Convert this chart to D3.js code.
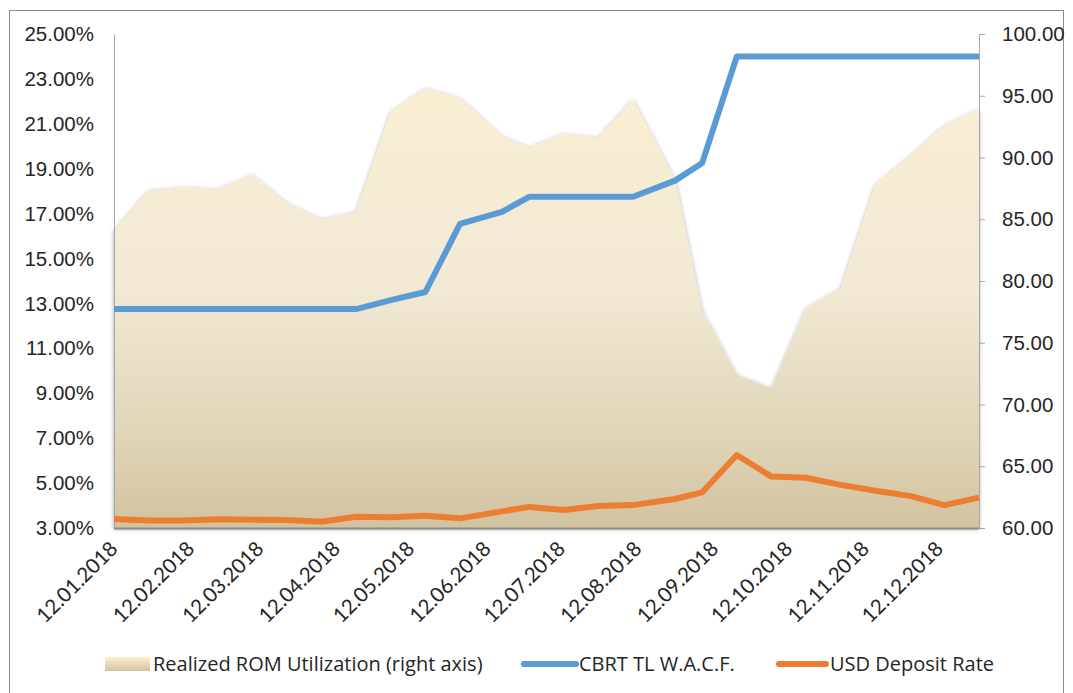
<!DOCTYPE html>
<html>
<head>
<meta charset="utf-8">
<title>ROM utilization and rates 2018</title>
<script src="https://d3js.org/d3.v7.min.js"></script>
<style>
  body { margin: 0; background: #fff; font-family: "Lato", "Open Sans", sans-serif; }
  .axis text { fill: #262626; font-size: 20.5px; }
  .axis path, .axis line { stroke: #a6a6a6; }
  .legend text { fill: #262626; font-size: 20px; font-family: "Open Sans", sans-serif; }
</style>
</head>
<body>
<svg id="chart" width="1073" height="693"></svg>
<script>

// biweekly observation dates (holiday weeks moved to the next business day)
var dates = ["12.01.2018", "26.01.2018", "09.02.2018", "23.02.2018", "09.03.2018", "23.03.2018",
             "06.04.2018", "20.04.2018", "04.05.2018", "18.05.2018", "01.06.2018", "18.06.2018",
             "29.06.2018", "13.07.2018", "27.07.2018", "10.08.2018", "27.08.2018", "07.09.2018",
             "21.09.2018", "05.10.2018", "19.10.2018", "02.11.2018", "16.11.2018", "30.11.2018",
             "14.12.2018", "28.12.2018"];

// Realized ROM Utilization (right axis)
var romUtil = [84.1, 87.3, 87.6, 87.4, 88.6, 86.3, 85.0, 85.6, 93.7, 95.6, 94.8, 91.7, 90.8,
               91.9, 91.6, 94.7, 88.2, 77.6, 72.4, 71.3, 77.8, 79.4, 87.8, 90.1, 92.6, 93.9];

// CBRT TL W.A.C.F. (%)
var cbrt = [12.75, 12.75, 12.75, 12.75, 12.75, 12.75, 12.75, 12.75, 13.15, 13.51, 16.54, 17.08, 17.75,
            17.75, 17.75, 17.75, 18.47, 19.26, 24.0, 24.0, 24.0, 24.0, 24.0, 24.0, 24.0, 24.0];

// USD Deposit Rate (%)
var usdDeposit = [3.40, 3.33, 3.33, 3.39, 3.37, 3.36, 3.28, 3.50, 3.48, 3.55, 3.43, 3.74, 3.94,
                  3.80, 3.98, 4.02, 4.29, 4.59, 6.25, 5.29, 5.24, 4.92, 4.66, 4.43, 4.02, 4.35];

var xTickLabels = ["12.01.2018", "12.02.2018", "12.03.2018", "12.04.2018", "12.05.2018", "12.06.2018",
                   "12.07.2018", "12.08.2018", "12.09.2018", "12.10.2018", "12.11.2018", "12.12.2018"];
var leftTicks = [3, 5, 7, 9, 11, 13, 15, 17, 19, 21, 23, 25];
var rightTicks = [60, 65, 70, 75, 80, 85, 90, 95, 100];

var legendNames = ["Realized ROM Utilization (right axis)", "CBRT TL W.A.C.F.", "USD Deposit Rate"];

// plot box
var plotL = 114, plotR = 979, plotT = 34, plotB = 528;

var parse = d3.utcParse("%d.%m.%Y");
var data = dates.map(function(d, i) {
    return { date: parse(d), rom: romUtil[i], cbrt: cbrt[i], usd: usdDeposit[i] };
});

var x = d3.scaleUtc()
    .domain(d3.extent(data, function(d) { return d.date; }))
    .range([plotL, plotR]);
var yL = d3.scaleLinear().domain([3, 25]).range([plotB, plotT]);
var yR = d3.scaleLinear().domain([60, 100]).range([plotB, plotT]);

var svg = d3.select("#chart");
var defs = svg.append("defs");

// area gradient, tied to the plot box
var grad = defs.append("linearGradient")
    .attr("id", "romGrad")
    .attr("gradientUnits", "userSpaceOnUse")
    .attr("x1", 0).attr("y1", plotT).attr("x2", 0).attr("y2", plotB);
grad.append("stop").attr("offset", 0).attr("stop-color", "#fdefd2");
grad.append("stop").attr("offset", 0.5).attr("stop-color", "#f2ead5");
grad.append("stop").attr("offset", 0.8).attr("stop-color", "#e0d6b9");
grad.append("stop").attr("offset", 1).attr("stop-color", "#d2c39f");

var swGrad = defs.append("linearGradient")
    .attr("id", "swatchGrad")
    .attr("x1", 0).attr("y1", 0).attr("x2", 0).attr("y2", 1);
swGrad.append("stop").attr("offset", 0).attr("stop-color", "#fdefd2");
swGrad.append("stop").attr("offset", 1).attr("stop-color", "#d2c39f");

var shadow = defs.append("filter")
    .attr("id", "soft")
    .attr("x", "-5%").attr("y", "-5%").attr("width", "110%").attr("height", "110%");
shadow.append("feDropShadow")
    .attr("dx", 0).attr("dy", 1)
    .attr("stdDeviation", 2.2)
    .attr("flood-color", "#000")
    .attr("flood-opacity", 0.38);

// outer frame
svg.append("rect")
    .attr("x", 9.5).attr("y", 10.5)
    .attr("width", 1054).attr("height", 700)
    .attr("fill", "none")
    .attr("stroke", "#8c8c8c");

// area
var area = d3.area()
    .x(function(d) { return x(d.date); })
    .y0(plotB)
    .y1(function(d) { return yR(d.rom); });

svg.append("path")
    .datum(data)
    .attr("d", area)
    .attr("fill", "url(#romGrad)")
    .attr("filter", "url(#soft)");

// axes
svg.append("g")
    .attr("class", "axis")
    .attr("transform", "translate(" + plotL + ",0)")
    .call(d3.axisLeft(yL)
        .tickValues(leftTicks)
        .tickSize(0)
        .tickPadding(20)
        .tickFormat(function(d) { return d3.format(".2f")(d) + "%"; }));

svg.append("g")
    .attr("class", "axis")
    .attr("transform", "translate(" + plotR + ",0)")
    .call(d3.axisRight(yR)
        .tickValues(rightTicks)
        .tickSizeInner(6)
        .tickSizeOuter(0)
        .tickPadding(17)
        .tickFormat(d3.format(".2f")));

svg.append("line")
    .attr("x1", plotL).attr("x2", plotR)
    .attr("y1", plotB + 0.5).attr("y2", plotB + 0.5)
    .attr("stroke", "#8c8c8c")
    .attr("stroke-width", 2);

svg.append("g")
    .attr("class", "axis")
    .selectAll("text")
    .data(xTickLabels)
    .enter()
    .append("text")
    .attr("text-anchor", "end")
    .attr("transform", function(d) {
        return "translate(" + (x(parse(d)) + 5) + "," + (plotB + 22) + ") rotate(-45)";
    })
    .text(function(d) { return d; });

// lines
var lineCbrt = d3.line()
    .x(function(d) { return x(d.date); })
    .y(function(d) { return yL(d.cbrt); });
var lineUsd = d3.line()
    .x(function(d) { return x(d.date); })
    .y(function(d) { return yL(d.usd); });

svg.append("path")
    .datum(data)
    .attr("d", lineUsd)
    .attr("fill", "none")
    .attr("stroke", "#ed7d31")
    .attr("stroke-width", 6)
    .attr("stroke-linejoin", "round");

svg.append("path")
    .datum(data)
    .attr("d", lineCbrt)
    .attr("fill", "none")
    .attr("stroke", "#5b9bd5")
    .attr("stroke-width", 6)
    .attr("stroke-linejoin", "round");

// legend
var legend = svg.append("g").attr("class", "legend");
var ly = 664;

legend.append("rect")
    .attr("x", 105).attr("y", ly - 7)
    .attr("width", 45).attr("height", 14)
    .attr("fill", "url(#swatchGrad)");
legend.append("text")
    .attr("x", 153).attr("y", ly).attr("dy", "0.35em")
    .text(legendNames[0]);

legend.append("line")
    .attr("x1", 524).attr("x2", 576)
    .attr("y1", ly).attr("y2", ly)
    .attr("stroke", "#5b9bd5").attr("stroke-width", 6)
    .attr("stroke-linecap", "round");
legend.append("text")
    .attr("x", 579).attr("y", ly).attr("dy", "0.35em")
    .text(legendNames[1]);

legend.append("line")
    .attr("x1", 779).attr("x2", 826)
    .attr("y1", ly).attr("y2", ly)
    .attr("stroke", "#ed7d31").attr("stroke-width", 6)
    .attr("stroke-linecap", "round");
legend.append("text")
    .attr("x", 830).attr("y", ly).attr("dy", "0.35em")
    .text(legendNames[2]);

</script>
</body>
</html>
